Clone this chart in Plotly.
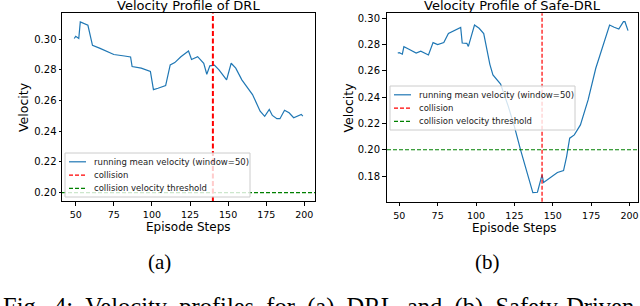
import plotly.graph_objects as go

# ---------------- data ----------------
drl_steps = [49, 50, 52, 53, 58, 61, 66, 75, 82, 86, 87, 93, 99, 101, 104, 109, 112, 115,
             119, 124, 126, 130, 134, 136, 138, 141, 144, 149, 152, 155, 159, 162, 166,
             171, 174, 177, 179, 182, 184, 187, 190, 193, 195, 198, 199]
drl_velocity = [0.3004, 0.3018, 0.3004, 0.3112, 0.3090, 0.2959, 0.2940, 0.2900, 0.2890,
                0.2884, 0.2821, 0.2811, 0.2789, 0.2671, 0.2680, 0.2697, 0.2832, 0.2847,
                0.2885, 0.2923, 0.2867, 0.2886, 0.2843, 0.2771, 0.2826, 0.2831, 0.2800,
                0.2735, 0.2843, 0.2811, 0.2735, 0.2692, 0.2639, 0.2531, 0.2497, 0.2542,
                0.2503, 0.2482, 0.2482, 0.2537, 0.2520, 0.2488, 0.2499, 0.2510, 0.2499]

safe_steps = [49, 50, 52, 53, 56, 61, 64, 67, 69, 72, 75, 79, 82, 90, 91, 94, 95, 99, 102,
              105, 109, 111, 113, 116, 121, 125, 129, 133, 137, 140, 142, 143, 144, 148,
              153, 157, 159, 161, 164, 168, 173, 178, 183, 187, 190, 193, 196, 197, 199]
safe_velocity = [0.2736, 0.2739, 0.2727, 0.2784, 0.2767, 0.2736, 0.2750, 0.2734, 0.2721,
                 0.2815, 0.2800, 0.2815, 0.2884, 0.2930, 0.2812, 0.2810, 0.2786, 0.2949,
                 0.2924, 0.2884, 0.2650, 0.2569, 0.2544, 0.2500, 0.2330, 0.2176, 0.1999,
                 0.1834, 0.1674, 0.1677, 0.1766, 0.1809, 0.1751, 0.1784, 0.1827, 0.1842,
                 0.1948, 0.2088, 0.2113, 0.2189, 0.2379, 0.2620, 0.2810, 0.2949, 0.2932,
                 0.2919, 0.2974, 0.2974, 0.2906]

drl_collision_step = 140
safe_collision_step = 143
collision_velocity_threshold = 0.20

x_tick_vals = [50, 75, 100, 125, 150, 175, 200]
drl_y_ticks = [0.20, 0.22, 0.24, 0.26, 0.28, 0.30]
safe_y_ticks = [0.18, 0.20, 0.22, 0.24, 0.26, 0.28, 0.30]

titles = ["Velocity Profile of DRL", "Velocity Profile of Safe-DRL"]
legend_labels = ["running mean velocity (window=50)", "collision", "collision velocity threshold"]
sub_captions = ["(a)", "(b)"]
fig_caption = "Fig. 4: Velocity profiles for (a) DRL and (b) Safety-Driven"

# ---------------- styling ----------------
W, H = 640, 306
BLUE, RED, GREEN = "#1f77b4", "#ff0000", "#008000"
SANS = "DejaVu Sans"
SERIF = "Liberation Serif"


def px(x):
    return x / W


def py(y):
    return 1 - y / H


fig = go.Figure()
fig.add_trace(go.Scatter(x=drl_steps, y=drl_velocity, mode="lines", xaxis="x", yaxis="y",
                         line=dict(color=BLUE, width=1.2), showlegend=False,
                         name=legend_labels[0]))
fig.add_trace(go.Scatter(x=safe_steps, y=safe_velocity, mode="lines", xaxis="x2", yaxis="y2",
                         line=dict(color=BLUE, width=1.2), showlegend=False,
                         name=legend_labels[0]))

axis_common = dict(showline=True, linecolor="black", linewidth=1, mirror=True,
                   ticks="outside", tickwidth=1, tickcolor="black",
                   showgrid=False, zeroline=False, ticklabeloverflow="allow")

panels = [
    dict(x0=62, x1=315, y0=13, y1=201, xr=[41, 207], yr=[0.1946, 0.317], yt=drl_y_ticks,
         ylen=2.5, xt_y=226.5),
    dict(x0=387, x1=638, y0=13.3, y1=201.7, xr=[42, 205.5], yr=[0.1605, 0.3038], yt=safe_y_ticks,
         ylen=4, xt_y=227.5),
]

layout = dict(width=W, height=H, autosize=False,
              margin=dict(l=0, r=0, t=0, b=0, pad=0),
              paper_bgcolor="white", plot_bgcolor="white",
              font=dict(family=SANS, color="black"), showlegend=False)

for i, p in enumerate(panels):
    sx = "" if i == 0 else "2"
    layout["xaxis" + sx] = dict(axis_common, domain=[px(p["x0"]), px(p["x1"])], range=p["xr"],
                                anchor="y" + sx, tickmode="array", tickvals=x_tick_vals,
                                ticktext=[str(v) for v in x_tick_vals], ticklen=3.5,
                                ticklabelstandoff=1,
                                tickfont=dict(family=SANS, size=9.5, color="black"))
    layout["yaxis" + sx] = dict(axis_common, domain=[py(p["y1"]), py(p["y0"])], range=p["yr"],
                                anchor="x" + sx, tickmode="array", tickvals=p["yt"],
                                ticktext=["%.2f" % v for v in p["yt"]], ticklen=p["ylen"],
                                tickfont=dict(family=SANS, size=10, color="black"))

fig.update_layout(**layout)

shapes = []
annotations = []
collisions = [drl_collision_step, safe_collision_step]
red_widths = [2.0, 1.2]
red_dash = ["5px,2.5px", "4px,2px"]
legend_boxes = [(65, 153), (390, 86)]

for i, p in enumerate(panels):
    sx = "" if i == 0 else "2"
    # threshold line (data y through axis scale)
    shapes.append(dict(type="line", xref="x" + sx + " domain", yref="y" + sx,
                       x0=0, x1=1, y0=collision_velocity_threshold, y1=collision_velocity_threshold,
                       line=dict(color=GREEN, width=1.2, dash="4px,2px"), layer="above"))
    # collision line (data x through axis scale)
    shapes.append(dict(type="line", xref="x" + sx, yref="y" + sx + " domain",
                       x0=collisions[i], x1=collisions[i], y0=0, y1=1,
                       line=dict(color=RED, width=red_widths[i], dash=red_dash[i]), layer="above"))

    # legend (frame + keys + labels)
    bx, by = legend_boxes[i]
    bw, bh = 185, 44
    shapes.append(dict(type="rect", xref="paper", yref="paper",
                       x0=px(bx), x1=px(bx + bw), y0=py(by + bh), y1=py(by),
                       line=dict(color="#cccccc", width=1),
                       fillcolor="rgba(255,255,255,0.8)", layer="above"))
    rows = [by + 8.8, by + 22.2, by + 35.4]
    keys = [(BLUE, "solid", 1.2), (RED, "4px,2px", 1.2), (GREEN, "4px,2px", 1.2)]
    for (c, d, w), ry, lab in zip(keys, rows, legend_labels):
        shapes.append(dict(type="line", xref="paper", yref="paper",
                           x0=px(bx + 4), x1=px(bx + 21), y0=py(ry), y1=py(ry),
                           line=dict(color=c, width=w, dash=d), layer="above"))
        annotations.append(dict(text=lab, xref="paper", yref="paper", x=px(bx + 27), y=py(ry),
                                xanchor="left", yanchor="middle", showarrow=False,
                                font=dict(family=SANS, size=8.5, color="#222222")))

    cx = (p["x0"] + p["x1"]) / 2
    cy = (p["y0"] + p["y1"]) / 2
    # title
    annotations.append(dict(text=titles[i], xref="paper", yref="paper", x=px(cx), y=py(5.5),
                            xanchor="center", yanchor="middle", showarrow=False,
                            font=dict(family=SANS, size=13, color="black")))
    # x-axis title
    annotations.append(dict(text="Episode Steps", xref="paper", yref="paper", x=px(cx + (0 if i == 0 else 2)),
                            y=py(p["xt_y"]), xanchor="center", yanchor="middle", showarrow=False,
                            font=dict(family=SANS, size=12, color="black")))
    # y-axis title
    annotations.append(dict(text="Velocity", xref="paper", yref="paper", x=px(p["x0"] - 39), y=py(cy),
                            xanchor="center", yanchor="middle", showarrow=False, textangle=-90,
                            font=dict(family=SANS, size=12.5, color="black")))

# sub captions
for lab, cx in zip(sub_captions, [159, 487]):
    annotations.append(dict(text=lab, xref="paper", yref="paper", x=px(cx), y=py(262),
                            xanchor="center", yanchor="middle", showarrow=False,
                            font=dict(family=SERIF, size=21, color="black")))

# figure caption (justified look via extra non-breaking spaces)
annotations.append(dict(text=fig_caption.replace(" ", " \u00a0"), xref="paper", yref="paper",
                        x=px(1), y=py(290.5), xanchor="left", yanchor="top", showarrow=False,
                        font=dict(family=SERIF, size=24.5, color="black")))

fig.update_layout(shapes=shapes, annotations=annotations)
fig.write_html("out.html", config={"displayModeBar": False, "staticPlot": True},
               post_script="document.body.style.margin='0';document.body.style.overflow='hidden';")
